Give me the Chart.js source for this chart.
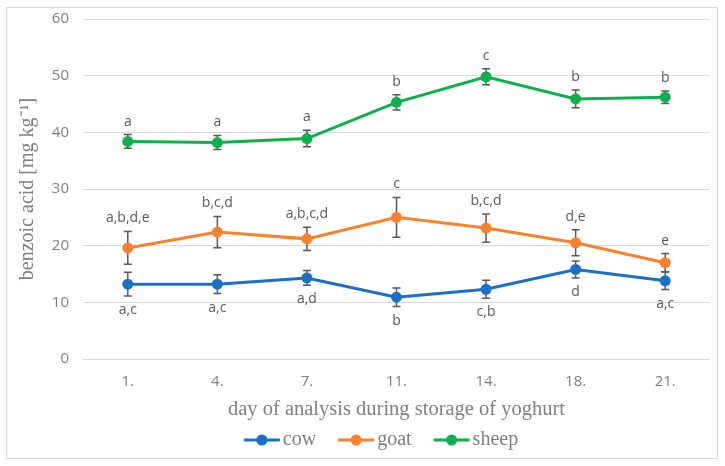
<!DOCTYPE html>
<html>
<head>
<meta charset="utf-8">
<script src="https://cdn.jsdelivr.net/npm/chart.js@4.4.1/dist/chart.umd.min.js"></script>
<style>
  html, body { margin: 0; padding: 0; background: #ffffff; }
  #wrap { width: 725px; height: 466px; position: relative; }
</style>
</head>
<body>
<div id="wrap"><canvas id="c" width="725" height="466"></canvas></div>
<script>
const days = ['1.', '4.', '7.', '11.', '14.', '18.', '21.'];
const cow = [13.2, 13.2, 14.3, 10.9, 12.3, 15.8, 13.8];
const goat = [19.6, 22.4, 21.2, 25.0, 23.1, 20.5, 17.0];
const sheep = [38.4, 38.2, 38.9, 45.3, 49.8, 45.9, 46.2];
const cowErr = [2.1, 1.65, 1.3, 1.65, 1.6, 1.5, 1.55];
const goatErr = [2.9, 2.75, 2.05, 3.5, 2.5, 2.3, 1.6];
const sheepErr = [1.2, 1.25, 1.45, 1.35, 1.4, 1.55, 1.1];
const cowLetters = ['a,c', 'a,c', 'a,d', 'b', 'c,b', 'd', 'a,c'];
const goatLetters = ['a,b,d,e', 'b,c,d', 'a,b,c,d', 'c', 'b,c,d', 'd,e', 'e'];
const sheepLetters = ['a', 'a', 'a', 'b', 'c', 'b', 'b'];
const yTicks = [0, 10, 20, 30, 40, 50, 60];

const COW = '#1a70c8', GOAT = '#f7822b', SHEEP = '#0db04b';
const SERIF = '"Liberation Serif", serif';

const seriesMeta = [
  { err: cowErr, letters: cowLetters, below: true },
  { err: goatErr, letters: goatLetters, below: false },
  { err: sheepErr, letters: sheepLetters, below: false }
];

const errorBarPlugin = {
  id: 'errbars',
  beforeDraw(chart) {
    const ctx = chart.ctx;
    ctx.save();
    ctx.strokeStyle = '#d9d9d9';
    ctx.lineWidth = 1;
    ctx.strokeRect(6.5, 7.5, 711, 451);
    ctx.restore();
  },
  beforeDatasetsDraw(chart) {
    const ctx = chart.ctx;
    const y = chart.scales.y;
    ctx.save();
    ctx.strokeStyle = '#595959';
    ctx.lineWidth = 1.5;
    chart.data.datasets.forEach((ds, i) => {
      const meta = chart.getDatasetMeta(i);
      const err = seriesMeta[i].err;
      meta.data.forEach((pt, j) => {
        const v = ds.data[j];
        const yt = y.getPixelForValue(v + err[j]);
        const yb = y.getPixelForValue(v - err[j]);
        const x = pt.x;
        ctx.beginPath();
        ctx.moveTo(x, yt); ctx.lineTo(x, yb);
        ctx.moveTo(x - 4, yt); ctx.lineTo(x + 4, yt);
        ctx.moveTo(x - 4, yb); ctx.lineTo(x + 4, yb);
        ctx.stroke();
      });
    });
    ctx.restore();
  },
  afterDatasetsDraw(chart) {
    const ctx = chart.ctx;
    const y = chart.scales.y;
    ctx.save();
    ctx.fillStyle = '#595959';
    ctx.font = '14px "Open Sans"';
    ctx.textAlign = 'center';
    ctx.textBaseline = 'middle';
    chart.data.datasets.forEach((ds, i) => {
      const meta = chart.getDatasetMeta(i);
      const sm = seriesMeta[i];
      meta.data.forEach((pt, j) => {
        const v = ds.data[j];
        let yy;
        if (sm.below) yy = y.getPixelForValue(v - sm.err[j]) + 14;
        else yy = y.getPixelForValue(v + sm.err[j]) - 13;
        ctx.fillText(sm.letters[j], pt.x, yy);
      });
    });
    ctx.restore();
  },
  afterDraw(chart) {
    // legend: line with marker + label
    const ctx = chart.ctx;
    ctx.save();
    ctx.font = '20px ' + SERIF;
    ctx.textBaseline = 'middle';
    ctx.textAlign = 'left';
    const iconW = 36, gap = 3, itemGap = 22;
    const items = chart.data.datasets.map(ds => ({ text: ds.label, color: ds.borderColor, w: ctx.measureText(ds.label).width }));
    const total = items.reduce((s, it) => s + iconW + gap + it.w, 0) + itemGap * (items.length - 1);
    let x = 381 - total / 2;
    const yy = 440;
    items.forEach(it => {
      ctx.strokeStyle = it.color; ctx.lineWidth = 3;
      ctx.beginPath(); ctx.moveTo(x, yy); ctx.lineTo(x + iconW, yy); ctx.stroke();
      ctx.fillStyle = it.color;
      ctx.beginPath(); ctx.arc(x + iconW / 2, yy, 5.5, 0, Math.PI * 2); ctx.fill();
      ctx.fillStyle = '#7f7f7f';
      ctx.fillText(it.text, x + iconW + gap, yy);
      x += iconW + gap + it.w + itemGap;
    });
    ctx.restore();
  }
};

function mkDs(label, data, color) {
  return {
    label, data,
    borderColor: color, backgroundColor: color,
    borderWidth: 3,
    pointStyle: 'circle',
    pointRadius: 5.5, pointHoverRadius: 5.5,
    pointBackgroundColor: color, pointBorderColor: color, pointBorderWidth: 0,
    tension: 0
  };
}

new Chart(document.getElementById('c'), {
  type: 'line',
  data: {
    labels: days,
    datasets: [mkDs('cow', cow, COW), mkDs('goat', goat, GOAT), mkDs('sheep', sheep, SHEEP)]
  },
  plugins: [errorBarPlugin],
  options: {
    responsive: false,
    animation: false,
    devicePixelRatio: 1,
    layout: { padding: { left: 16, right: 15, top: 19, bottom: 44 } },
    plugins: {
      tooltip: { enabled: false },
      legend: { display: false }
    },
    scales: {
      x: {
        offset: true,
        afterFit(scale) { scale.height = 63; },
        grid: { display: false, drawTicks: false },
        border: { display: false },
        ticks: { color: '#7f7f7f', font: { family: '"Open Sans"', size: 15 }, padding: 14 },
        title: {
          display: true,
          text: 'day of analysis during storage of yoghurt',
          color: '#7f7f7f',
          font: { family: SERIF, size: 20.5 },
          padding: { top: 0, bottom: 0 }
        }
      },
      y: {
        min: 0, max: 60,
        afterBuildTicks(scale) { scale.ticks = yTicks.map(v => ({ value: v })); },
        afterFit(scale) { scale.width = 67; scale.paddingTop = 0; scale.paddingBottom = 0; },
        grid: { color: '#d9d9d9', lineWidth: 1, drawTicks: false },
        border: { display: false },
        ticks: { color: '#7f7f7f', font: { family: '"Open Sans"', size: 15 }, padding: 14 },
        title: {
          display: true,
          text: 'benzoic acid [mg kg⁻¹]',
          color: '#7f7f7f',
          font: { family: SERIF, size: 20 },
          padding: { top: 0, bottom: 8 }
        }
      }
    }
  }
});
</script>
</body>
</html>
